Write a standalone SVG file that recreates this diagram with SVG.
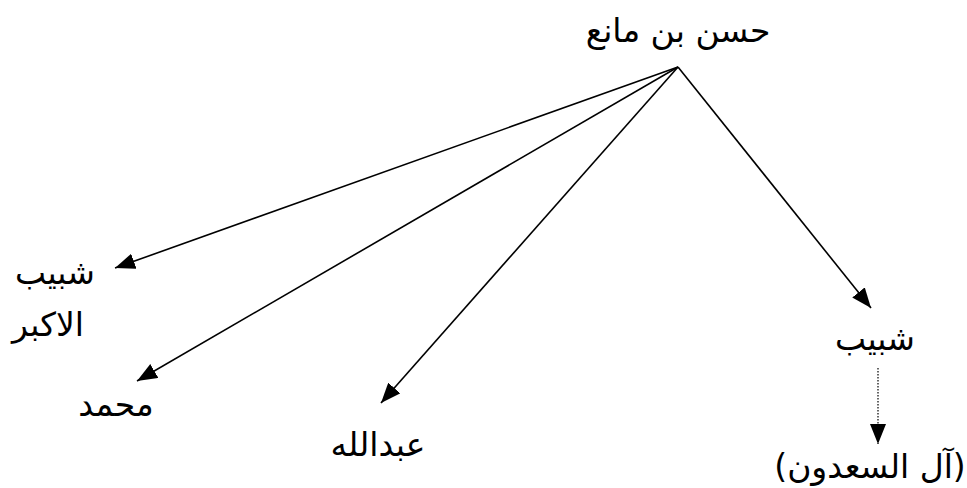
<svg xmlns="http://www.w3.org/2000/svg" width="967" height="488" viewBox="0 0 967 488">
<style>
.t{font-family:"DejaVu Sans","Noto Sans",sans-serif;font-size:33px;fill:#000;text-anchor:middle;direction:rtl;unicode-bidi:embed}
.c{stroke:#000;stroke-width:1.6;fill:none}
.d{stroke:#000;stroke-width:1.2;fill:none;stroke-dasharray:1.5 1.5}
</style>
<defs>
<marker id="ah" markerUnits="userSpaceOnUse" markerWidth="22" markerHeight="16" refX="20" refY="8" orient="auto">
<path d="M0,0 L20,8 L0,16 Z" fill="#000"/>
</marker>
</defs>
<rect width="967" height="488" fill="#fff"/>
<g id="connectors">
<line class="c" x1="678" y1="67" x2="115" y2="268" marker-end="url(#ah)"/>
<line class="c" x1="678" y1="67" x2="137" y2="381" marker-end="url(#ah)"/>
<line class="c" x1="678" y1="67" x2="381" y2="403" marker-end="url(#ah)"/>
<line class="c" x1="678" y1="67" x2="871" y2="308" marker-end="url(#ah)"/>
<line class="d" x1="878" y1="368" x2="878" y2="444" marker-end="url(#ah)"/>
</g>
<g id="root"><text class="t" x="678" y="42">حسن بن مانع</text></g>
<g id="shabib-akbar"><text class="t" x="55" y="284">شبيب</text><text class="t" x="48" y="336">الاكبر</text></g>
<g id="muhammad"><text class="t" x="116" y="416">محمد</text></g>
<g id="abdullah"><text class="t" x="378" y="456">عبدالله</text></g>
<g id="shabib"><text class="t" x="875" y="350">شبيب</text></g>
<g id="al-saadoun"><text class="t" x="870" y="478">(آل السعدون)</text></g>
</svg>
